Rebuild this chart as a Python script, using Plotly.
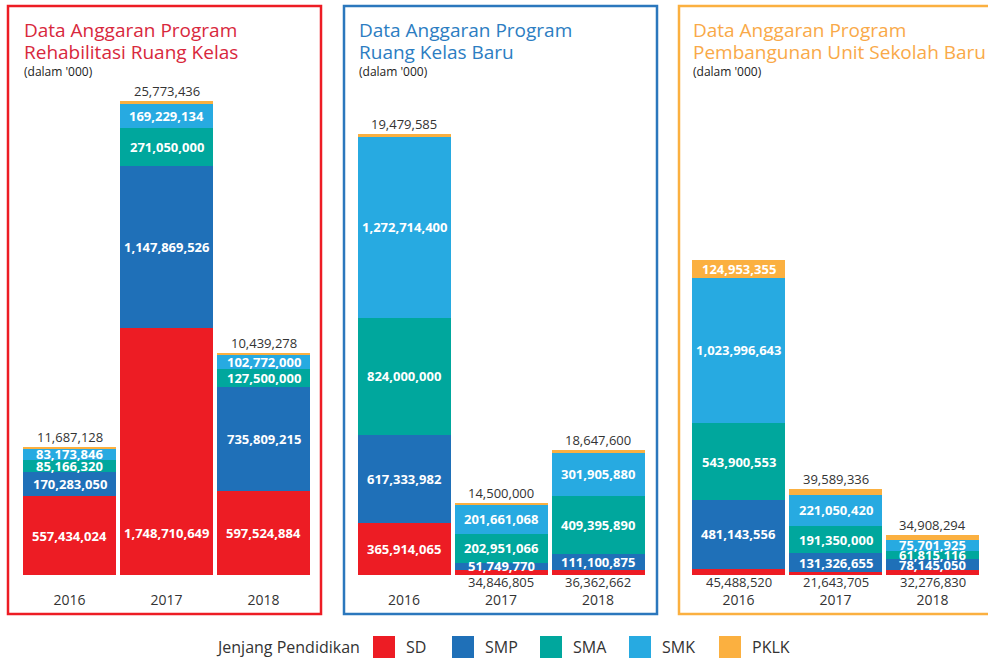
import plotly.graph_objects as go

W, H = 988, 659

years = ["2016", "2017", "2018"]
levels = ["SD", "SMP", "SMA", "SMK", "PKLK"]
level_colors = ["#ED1C24", "#1F70B8", "#00A79D", "#27AAE1", "#FBB040"]

# Panel 1: Rehabilitasi Ruang Kelas
rehab_sd = [557434024, 1748710649, 597524884]
rehab_smp = [170283050, 1147869526, 735809215]
rehab_sma = [85166320, 271050000, 127500000]
rehab_smk = [83173846, 169229134, 102772000]
rehab_pklk = [11687128, 25773436, 10439278]

# Panel 2: Ruang Kelas Baru
rkb_sd = [365914065, 34846805, 36362662]
rkb_smp = [617333982, 51749770, 111100875]
rkb_sma = [824000000, 202951066, 409395890]
rkb_smk = [1272714400, 201661068, 301905880]
rkb_pklk = [19479585, 14500000, 18647600]

# Panel 3: Pembangunan Unit Sekolah Baru
usb_sd = [45488520, 21643705, 32276830]
usb_smp = [481143556, 131326655, 78145050]
usb_sma = [543900553, 191350000, 61815116]
usb_smk = [1023996643, 221050420, 75701925]
usb_pklk = [124953355, 39589336, 34908294]

titles = [
    ("Data Anggaran Program", "Rehabilitasi Ruang Kelas"),
    ("Data Anggaran Program", "Ruang Kelas Baru"),
    ("Data Anggaran Program", "Pembangunan Unit Sekolah Baru"),
]
title_colors = ["#D8283C", "#2C7DC2", "#F9A948"]
border_colors = ["#ED1C24", "#2B77BD", "#FBB040"]
subtitle = "(dalam '000)"
legend_title = "Jenjang Pendidikan"

panels = [
    [rehab_sd, rehab_smp, rehab_sma, rehab_smk, rehab_pklk],
    [rkb_sd, rkb_smp, rkb_sma, rkb_smk, rkb_pklk],
    [usb_sd, usb_smp, usb_sma, usb_smk, usb_pklk],
]

FONT = "Open Sans"
GRAY = "#333333"
SD_LABEL_CAP = 600e6   # very tall SD segments keep their label low, in line with neighbours
OUTSIDE_LIMIT = 50e6   # thinner end segments get their label outside the bar

def px(x):
    return x / W

def py(y):
    return (H - y) / H

# layout geometry (pixels)
x_domains = [(21, 312), (355.5, 646.5), (690, 981)]
y_base, y_top = 575, 60
px_per_unit = [7.087e6, 7.028e6, 7.046e6]
title_x = [22, 357, 691]
borders = [(8, 321), (344, 657), (679, 1000)]

fig = go.Figure()
annotations = []
shapes = []

for p, series in enumerate(panels):
    xa = "x" if p == 0 else f"x{p+1}"
    ya = "y" if p == 0 else f"y{p+1}"
    for li, (name, col) in enumerate(zip(levels, level_colors)):
        fig.add_trace(go.Bar(
            x=years, y=series[li], name=name, marker=dict(color=col, line=dict(width=0)),
            xaxis=xa, yaxis=ya, showlegend=False, hoverinfo="x+y+name",
        ))
    # value labels
    for yi, yr in enumerate(years):
        base = 0
        total = sum(s[yi] for s in series)
        for li, name in enumerate(levels):
            v = series[li][yi]
            txt = f"{v:,}"
            if v < OUTSIDE_LIMIT and name == "PKLK":
                annotations.append(dict(x=yi, y=total, xref=xa, yref=ya, text=txt,
                                        showarrow=False, yanchor="bottom", yshift=-1,
                                        font=dict(family=FONT, size=13, color=GRAY)))
            elif v < OUTSIDE_LIMIT and name == "SD":
                annotations.append(dict(x=yi, y=0, xref=xa, yref=ya, text=txt,
                                        showarrow=False, yanchor="top", yshift=4,
                                        font=dict(family=FONT, size=13, color=GRAY)))
            else:
                mid = base + (min(v, SD_LABEL_CAP) if name == "SD" else v) / 2
                annotations.append(dict(x=yi, y=mid, xref=xa, yref=ya,
                                        text=f"<b>{txt}</b>", showarrow=False, yanchor="middle",
                                        font=dict(family=FONT, size=13, color="white")))
            base += v

    d0, d1 = x_domains[p]
    axis_x = dict(domain=[px(d0), px(d1)], type="category", range=[-0.5, 2.5],
                  showgrid=False, zeroline=False, automargin=False,
                  showline=False, ticks="", tickfont=dict(family=FONT, size=14, color=GRAY),
                  ticklabelstandoff=15, fixedrange=True)
    axis_y = dict(domain=[py(y_base), py(y_top)], range=[0, (y_base - y_top) * px_per_unit[p]],
                  visible=False, fixedrange=True, automargin=False)
    if p > 0:
        axis_x["anchor"] = ya
        axis_y["anchor"] = xa
    fig.update_layout(**{("xaxis" if p == 0 else f"xaxis{p+1}"): axis_x,
                         ("yaxis" if p == 0 else f"yaxis{p+1}"): axis_y})

    # titles
    l1, l2 = titles[p]
    for txt, yc, sz, colr in [(l1, 30, 19, title_colors[p]), (l2, 52, 19, title_colors[p]),
                              (subtitle, 71, 12, "#222222")]:
        annotations.append(dict(x=px(title_x[p]), y=py(yc), xref="paper", yref="paper", text=txt,
                                showarrow=False, xanchor="left", yanchor="middle",
                                font=dict(family=FONT, size=sz, color=colr)))
    bx0, bx1 = borders[p]
    shapes.append(dict(type="rect", xref="paper", yref="paper", x0=px(bx0), x1=px(bx1),
                       y0=py(614), y1=py(6), line=dict(color=border_colors[p], width=2.5)))

# legend (drawn manually for the large swatches)
annotations.append(dict(x=px(362), y=py(647), xref="paper", yref="paper", text=legend_title,
                        showarrow=False, xanchor="right", yanchor="middle",
                        font=dict(family=FONT, size=16, color=GRAY)))
sw_x = [373, 452, 540, 629, 719]
for name, col, sx in zip(levels, level_colors, sw_x):
    shapes.append(dict(type="rect", xref="paper", yref="paper", x0=px(sx), x1=px(sx + 22),
                       y0=py(658), y1=py(636), line=dict(width=0), fillcolor=col))
    annotations.append(dict(x=px(sx + 31), y=py(647), xref="paper", yref="paper", text=name,
                            showarrow=False, xanchor="left", yanchor="middle",
                            font=dict(family=FONT, size=16, color=GRAY)))

fig.update_layout(
    width=W, height=H, margin=dict(l=0, r=0, t=0, b=0, autoexpand=False),
    paper_bgcolor="white", plot_bgcolor="white",
    barmode="stack", bargap=0.0412,
    annotations=annotations, shapes=shapes,
    font=dict(family=FONT, color=GRAY),
)

fig.write_html("out.html", config={"displayModeBar": False},
               post_script="document.body.style.margin='0';document.body.style.overflow='hidden';")
